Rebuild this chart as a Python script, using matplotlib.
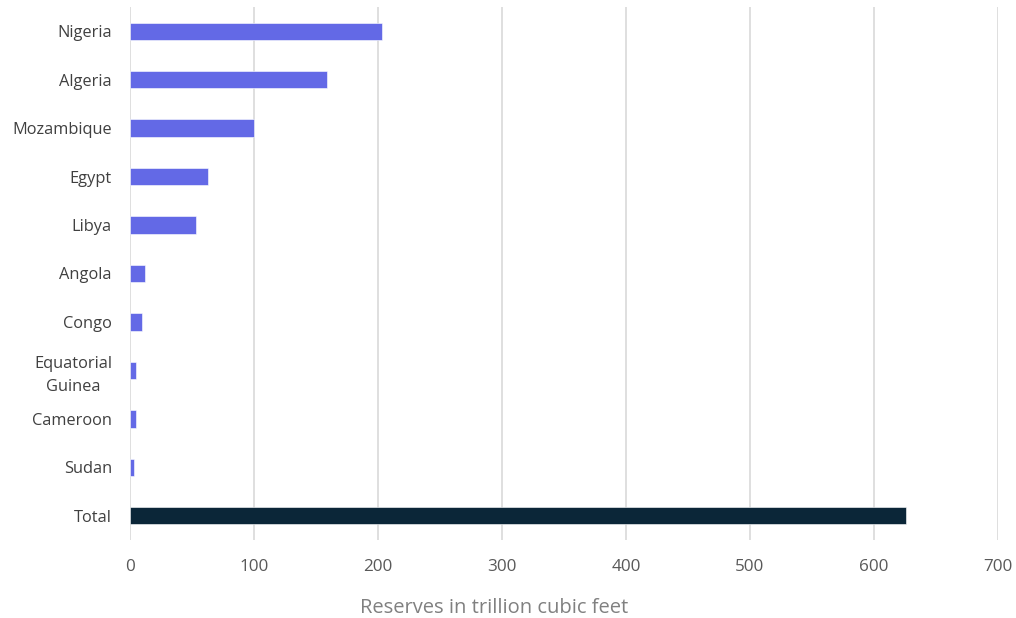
import matplotlib
matplotlib.use("Agg")
import matplotlib.pyplot as plt

countries = ["Nigeria", "Algeria", "Mozambique", "Egypt", "Libya", "Angola",
             "Congo", "Equatorial\nGuinea", "Cameroon", "Sudan", "Total"]
reserves = [203.3, 159.1, 100.0, 63.3, 53.3, 11.8, 9.9, 5.1, 5.1, 3.2, 626.0]
xticks = [0, 100, 200, 300, 400, 500, 600, 700]

plt.rcParams['font.family'] = ['Open Sans', 'DejaVu Sans']

fig = plt.figure(figsize=(10.16, 6.18), dpi=100)
ax = fig.add_axes([130/1016, 1 - 540/618, (998-130)/1016, (540-7)/618])

colors = ["#6369E6"] * (len(countries) - 1) + ["#0B2638"]
ypos = list(range(len(countries)))
ax.barh(ypos, reserves, height=0.36, color=colors, edgecolor="white", linewidth=0.4, zorder=3)
ax.set_yticks(ypos)
ax.set_yticklabels(countries, fontsize=11.8, color="#404040", multialignment="center",
                   linespacing=1.55)
ax.set_ylim(len(countries) - 0.5, -0.5)
ax.set_xlim(0, 700)
ax.set_xticks(xticks)
ax.set_xticklabels([str(v) for v in xticks], fontsize=12.3, color="#595959")
ax.grid(axis="x", color="#D9D9D9", linewidth=1.2, zorder=0)
for s in ax.spines.values():
    s.set_visible(False)
ax.tick_params(axis="both", length=0)
ax.tick_params(axis="x", pad=14)
ax.tick_params(axis="y", pad=13)
ax.set_xlabel("Reserves in trillion cubic feet", fontsize=14.5, color="#808080")
ax.xaxis.set_label_coords((494 - 130) / (998 - 130), -0.108)

fig.savefig("out.png", dpi=100)
